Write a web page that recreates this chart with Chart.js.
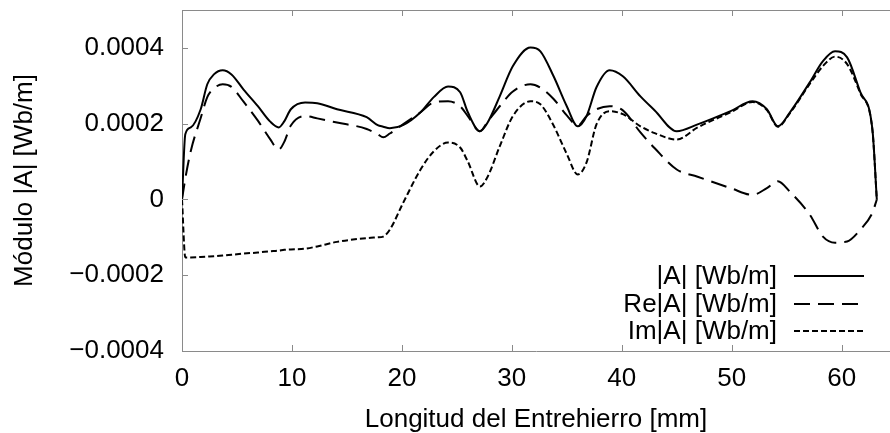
<!DOCTYPE html>
<html><head><meta charset="utf-8">
<script src="https://cdn.jsdelivr.net/npm/chart.js@4/dist/chart.umd.min.js"></script>
<style>html,body{margin:0;padding:0;background:#fff}#wrap{width:890px;height:433px;position:relative}</style>
</head><body><div id="wrap"><canvas id="c" width="890" height="433"></canvas></div>
<script>
// Longitud del entrehierro [mm]
const xPositions = [0, 0.3, 0.8, 1.7, 2.3, 2.9, 3.7, 4.5, 5.6, 6.9, 8.0, 8.8, 9.3, 9.9, 11.2, 12.3, 14.1, 16.8, 17.8, 18.3, 18.9, 20.1, 21.7, 22.9, 24.2, 25.3, 26.0, 27.1, 27.8, 28.9, 30.1, 31.7, 32.6, 33.8, 35.0, 36.0, 36.8, 37.7, 38.9, 40.1, 41.7, 43.0, 45.0, 46.9, 49.9, 51.9, 53.2, 54.2, 55.3, 57.1, 58.3, 59.4, 60.5, 61.7, 62.8, 63.2];
// |A| [Wb/m]
const absA = [0, 0.000172, 0.00019, 0.000238, 0.000304, 0.00033, 0.000341, 0.00033, 0.00029, 0.000246, 0.000206, 0.00019, 0.000206, 0.000238, 0.000256, 0.000254, 0.000238, 0.000217, 0.000196, 0.000192, 0.000188, 0.000196, 0.00023, 0.00027, 0.000298, 0.000283, 0.00023, 0.00018, 0.000203, 0.000272, 0.000352, 0.000401, 0.000391, 0.000325, 0.000246, 0.000193, 0.00022, 0.000296, 0.000341, 0.000325, 0.000272, 0.000235, 0.00018, 0.000198, 0.000233, 0.000259, 0.000238, 0.000193, 0.00023, 0.000309, 0.000365, 0.000391, 0.000375, 0.000283, 0.000185, 0];
// Re|A| [Wb/m]
const reA = [0, 0.000055, 0.000128, 0.000215, 0.00027, 0.000293, 0.000304, 0.000297, 0.000258, 0.000208, 0.00016, 0.000132, 0.000152, 0.000195, 0.00022, 0.000214, 0.000203, 0.000186, 0.000172, 0.000164, 0.000174, 0.000198, 0.00023, 0.000256, 0.000259, 0.000246, 0.00022, 0.00018, 0.000205, 0.000246, 0.000285, 0.000304, 0.000295, 0.000265, 0.000222, 0.000195, 0.00022, 0.000238, 0.000246, 0.000235, 0.000177, 0.000135, 0.000079, 0.00006, 0.00003, 0.000012, 0.00003, 0.000048, 0.00002, -0.00004, -0.000098, -0.000114, -0.000111, -0.00008, -0.000035, 0];
// Im|A| [Wb/m]
const imA = [0, -0.000153, -0.000153, -0.000152, -0.000151, -0.00015, -0.000148, -0.000146, -0.000143, -0.00014, -0.000137, -0.000135, -0.000133, -0.000132, -0.00013, -0.000124, -0.000112, -0.000102, -0.0001, -0.000098, -0.00008, -0.00001, 0.000079, 0.000127, 0.00015, 0.000137, 0.0001, 0.000034, 0.00006, 0.00014, 0.00022, 0.000259, 0.000251, 0.000195, 0.00012, 0.000066, 0.000098, 0.000198, 0.000233, 0.000225, 0.000193, 0.000175, 0.000158, 0.00019, 0.00023, 0.000257, 0.000236, 0.000192, 0.000228, 0.000305, 0.000352, 0.000377, 0.000357, 0.00028, 0.000183, 0];

const seriesLabels = ['|A| [Wb/m]', 'Re|A| [Wb/m]', 'Im|A| [Wb/m]'];
const xTicks = [0, 10, 20, 30, 40, 50, 60];
const yTicks = [-0.0004, -0.0002, 0, 0.0002, 0.0004];
const yTickLabels = ['\u22120.0004', '\u22120.0002', '0', '0.0002', '0.0004'];
const xTitle = 'Longitud del Entrehierro [mm]';
const yTitle = 'Módulo |A| [Wb/m]';

const FONT = 'Liberation Sans, Arial, Helvetica, sans-serif';
const AXIS_COLOR = '#8a8a8a';

function pts(ys) { return xPositions.map((x, i) => ({ x: x, y: ys[i] })); }

const dashes = [[], [16, 8], [6, 3]];

const frameTicks = {
  id: 'frameTicks',
  afterDraw(chart) {
    const ctx = chart.ctx, a = chart.chartArea;
    const xs = chart.scales.x, ys = chart.scales.y;
    ctx.save();
    ctx.strokeStyle = AXIS_COLOR;
    ctx.lineWidth = 1;
    ctx.beginPath();
    ctx.moveTo(a.left, a.top + 0.5); ctx.lineTo(a.right, a.top + 0.5);
    xTicks.forEach(v => {
      const px = Math.round(xs.getPixelForValue(v)) + 0.5;
      ctx.moveTo(px, a.top); ctx.lineTo(px, a.top + 6);
      ctx.moveTo(px, a.bottom); ctx.lineTo(px, a.bottom - 6);
    });
    yTicks.forEach(v => {
      const py = Math.round(ys.getPixelForValue(v)) + 0.5;
      ctx.moveTo(a.left, py); ctx.lineTo(a.left + 6, py);
    });
    ctx.stroke();
    // legend
    ctx.font = '26px ' + FONT;
    ctx.fillStyle = '#000';
    ctx.textAlign = 'right';
    ctx.textBaseline = 'middle';
    const rows = [276, 304, 331];
    chart.data.datasets.forEach((ds, i) => {
      const y = rows[i];
      ctx.fillText(ds.label, 777, y + 1);
      ctx.strokeStyle = '#000';
      ctx.lineWidth = 2;
      ctx.setLineDash(dashes[i]);
      ctx.beginPath();
      ctx.moveTo(794, y); ctx.lineTo(864, y);
      ctx.stroke();
    });
    ctx.restore();
  }
};

new Chart(document.getElementById('c'), {
  type: 'line',
  data: {
    datasets: [absA, reA, imA].map((d, i) => ({
      label: seriesLabels[i],
      data: pts(d),
      borderColor: '#000',
      borderWidth: 2,
      borderDash: dashes[i],
      pointRadius: 0,
      fill: false,
      cubicInterpolationMode: 'monotone'
    }))
  },
  options: {
    responsive: false,
    animation: false,
    devicePixelRatio: 1,
    layout: { padding: { top: 10, right: 0, left: 0, bottom: 0 } },
    plugins: { legend: { display: false }, tooltip: { enabled: false } },
    scales: {
      x: {
        type: 'linear', min: 0, max: 64.4,
        afterBuildTicks: s => { s.ticks = xTicks.map(v => ({ value: v })); },
        afterFit: s => { s.height = 82; s.paddingLeft = 0; s.paddingRight = 0; },
        grid: { display: false, drawTicks: false },
        border: { display: true, color: AXIS_COLOR, width: 1 },
        ticks: { color: '#000', font: { family: FONT, size: 26 }, padding: 12, maxRotation: 0, autoSkip: false,
                 callback: v => String(v) },
        title: { display: true, text: xTitle, color: '#000', font: { family: FONT, size: 26 }, padding: { top: 0, bottom: -2 } }
      },
      y: {
        type: 'linear', min: -0.0004, max: 0.0005,
        afterBuildTicks: s => { s.ticks = yTicks.map(v => ({ value: v })); },
        afterFit: s => { s.width = 182; s.paddingTop = 0; s.paddingBottom = 0; },
        grid: { display: false, drawTicks: false },
        border: { display: true, color: AXIS_COLOR, width: 1 },
        ticks: { color: '#000', font: { family: FONT, size: 26 }, padding: 18, autoSkip: false,
                 callback: (v, i) => yTickLabels[i] },
        title: { display: true, text: yTitle, color: '#000', font: { family: FONT, size: 26 }, padding: { top: 9, bottom: 0 } }
      }
    }
  },
  plugins: [frameTicks]
});
</script>
</body></html>
